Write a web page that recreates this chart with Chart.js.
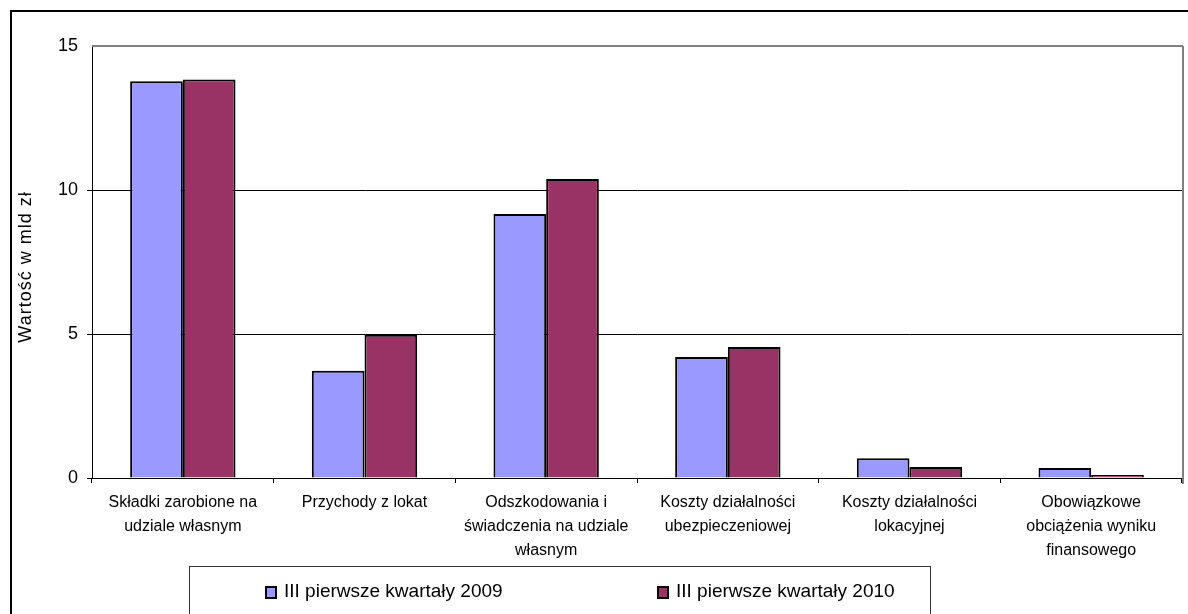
<!DOCTYPE html>
<html><head><meta charset="utf-8">
<script src="https://cdn.jsdelivr.net/npm/chart.js@4"></script>
<style>html,body{margin:0;padding:0;background:#fff;}#wrap{width:1188px;height:614px;position:relative;}</style>
</head><body><div id="wrap"><canvas id="c" width="1188" height="614"></canvas></div>
<script>
const categories = [
  ["Składki zarobione na","udziale własnym"],
  ["Przychody z lokat"],
  ["Odszkodowania i","świadczenia na udziale","własnym"],
  ["Koszty działalności","ubezpieczeniowej"],
  ["Koszty działalności","lokacyjnej"],
  ["Obowiązkowe","obciążenia wyniku","finansowego"]
];
const seriesNames = ["III pierwsze kwartały 2009","III pierwsze kwartały 2010"];
const values2009 = [13.78, 3.72, 9.17, 4.20, 0.69, 0.35];
const values2010 = [13.84, 4.97, 10.38, 4.55, 0.38, 0.10];
const yTicks = [0, 5, 10, 15];
const yTitle = "Wartość w mld zł";
const colors = ["#9999FF", "#993366"];

const FONT = "'Liberation Sans', Arial, sans-serif";

const decor = {
  id: 'decor',
  afterDraw(chart) {
    const ctx = chart.ctx;
    const a = chart.chartArea;
    ctx.save();
    ctx.strokeStyle = '#808080';
    ctx.lineWidth = 2;
    ctx.beginPath();
    ctx.moveTo(a.left, a.top);
    ctx.lineTo(a.right + 1, a.top);
    ctx.moveTo(a.right + 1, a.top);
    ctx.lineTo(a.right + 1, a.bottom + 6);
    ctx.stroke();
    ctx.fillStyle = '#000';
    ctx.font = "18px " + FONT;
    ctx.letterSpacing = '1px';
    ctx.textAlign = 'center';
    ctx.textBaseline = 'middle';
    ctx.translate(26, 267);
    ctx.rotate(-Math.PI / 2);
    ctx.fillText(yTitle, 0, 0);
    ctx.restore();
    ctx.save();
    ctx.strokeStyle = '#333';
    ctx.lineWidth = 1;
    ctx.strokeRect(189.5, 566.5, 741, 60);
    ctx.font = "19px " + FONT;
    ctx.textBaseline = 'middle';
    ctx.textAlign = 'left';
    const xs = [266, 658];
    chart.data.datasets.forEach((ds, i) => {
      ctx.fillStyle = ds.backgroundColor;
      ctx.fillRect(xs[i], 587, 10, 11);
      ctx.strokeStyle = '#000';
      ctx.lineWidth = 2;
      ctx.strokeRect(xs[i], 587, 10, 11);
      ctx.fillStyle = '#000';
      ctx.fillText(ds.label, xs[i] + 18, 592);
    });
    ctx.lineWidth = 2;
    ctx.strokeStyle = '#000';
    ctx.strokeRect(11, 11, 1300, 700);
    ctx.restore();
  }
};

new Chart(document.getElementById('c'), {
  type: 'bar',
  data: {
    labels: categories,
    datasets: [
      { label: seriesNames[0], data: values2009, backgroundColor: colors[0], borderColor: '#000', borderWidth: 2, categoryPercentage: 0.58, barPercentage: 1.0 },
      { label: seriesNames[1], data: values2010, backgroundColor: colors[1], borderColor: '#000', borderWidth: 2, categoryPercentage: 0.58, barPercentage: 1.0 }
    ]
  },
  options: {
    responsive: false,
    animation: false,
    devicePixelRatio: 1,
    layout: { padding: { left: 0, right: 6, top: 46, bottom: 0 } },
    plugins: { legend: { display: false }, tooltip: { enabled: false } },
    scales: {
      x: {
        afterFit(s) { s.height = 136; },
        grid: { offset: true, drawOnChartArea: false, drawTicks: true, tickLength: 5, color: '#000' },
        border: { color: '#000', width: 1 },
        ticks: { color: '#000', font: { family: FONT, size: 16, lineHeight: 1.5 }, padding: 8, maxRotation: 0, autoSkip: false }
      },
      y: {
        min: 0, max: 15,
        afterFit(s) { s.width = 92; },
        afterBuildTicks(s) { s.ticks = yTicks.map(v => ({ value: v })); },
        grid: { drawTicks: true, tickLength: 5, color: (c) => (c.tick && c.tick.value === 15) ? 'rgba(0,0,0,0)' : '#000' },
        border: { color: '#000', width: 1 },
        ticks: { color: '#000', font: { family: FONT, size: 18 }, padding: 9 }
      }
    }
  },
  plugins: [decor]
});
</script></body></html>
